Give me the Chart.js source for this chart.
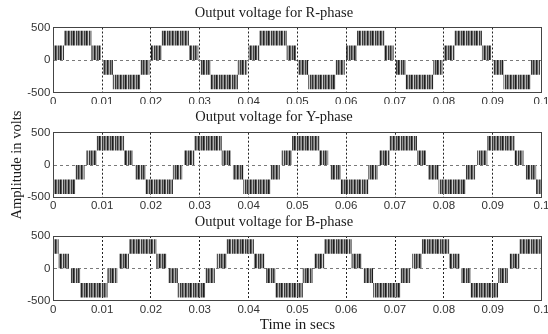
<!DOCTYPE html>
<html>
<head>
<meta charset="utf-8">
<script src="https://cdn.jsdelivr.net/npm/chart.js@4.4.0/dist/chart.umd.min.js"></script>
<style>
  body { margin: 0; background: #fff; width: 548px; height: 334px; overflow: hidden; position: relative; }
  canvas { position: absolute; left: 0; }
</style>
</head>
<body>
<canvas id="grafico-r" width="548" height="104" style="top:0px"></canvas>
<canvas id="grafico-y" width="548" height="135" style="top:90px"></canvas>
<canvas id="grafico-b" width="548" height="126" style="top:208px"></canvas>
<script>
// switching instants (s) and the band the output is chopping in after each one
// band 1 = 0..225 V, 2 = 225..450 V, -1 = -225..0 V, -2 = -450..-225 V, 0 = idle
const rTimes = [
    0, 0.0022, 0.0078, 0.0097, 0.0102, 0.0122, 0.0178, 0.0197,
    0.0200, 0.0222, 0.0278, 0.0297, 0.0302, 0.0322, 0.0378, 0.0397,
    0.0400, 0.0422, 0.0478, 0.0497, 0.0502, 0.0522, 0.0578, 0.0597,
    0.0600, 0.0622, 0.0678, 0.0697, 0.0702, 0.0722, 0.0778, 0.0797,
    0.0800, 0.0822, 0.0878, 0.0897, 0.0902, 0.0922, 0.0978, 0.0997,
    0.1
];
const rLevels = [
    1, 2, 1, 0, -1, -2, -1, 0,
    1, 2, 1, 0, -1, -2, -1, 0,
    1, 2, 1, 0, -1, -2, -1, 0,
    1, 2, 1, 0, -1, -2, -1, 0,
    1, 2, 1, 0, -1, -2, -1, 0,
    0
];

const yTimes = [
    0, 0.0045, 0.0064, 0.0068, 0.0089, 0.0145, 0.0163, 0.0168, 0.0189,
    0.0245, 0.0264, 0.0268, 0.0289, 0.0345, 0.0363, 0.0368, 0.0389,
    0.0445, 0.0464, 0.0468, 0.0489, 0.0545, 0.0563, 0.0568, 0.0589,
    0.0645, 0.0664, 0.0668, 0.0689, 0.0745, 0.0763, 0.0768, 0.0789,
    0.0845, 0.0864, 0.0868, 0.0889, 0.0945, 0.0963, 0.0968, 0.0989,
    0.1
];
const yLevels = [
    -2, -1, 0, 1, 2, 1, 0, -1, -2,
    -1, 0, 1, 2, 1, 0, -1, -2,
    -1, 0, 1, 2, 1, 0, -1, -2,
    -1, 0, 1, 2, 1, 0, -1, -2,
    -1, 0, 1, 2, 1, 0, -1, -2,
    -2
];

const bTimes = [
    0, 0.0011, 0.0032, 0.0036, 0.0055, 0.0111, 0.0131, 0.0135, 0.0155,
    0.0211, 0.0232, 0.0236, 0.0255, 0.0311, 0.0331, 0.0335, 0.0355,
    0.0411, 0.0432, 0.0436, 0.0455, 0.0511, 0.0531, 0.0535, 0.0555,
    0.0611, 0.0632, 0.0636, 0.0655, 0.0711, 0.0731, 0.0735, 0.0755,
    0.0811, 0.0832, 0.0836, 0.0855, 0.0911, 0.0931, 0.0935, 0.0955,
    0.1
];
const bLevels = [
    2, 1, 0, -1, -2, -1, 0, 1, 2,
    1, 0, -1, -2, -1, 0, 1, 2,
    1, 0, -1, -2, -1, 0, 1, 2,
    1, 0, -1, -2, -1, 0, 1, 2,
    1, 0, -1, -2, -1, 0, 1, 2,
    2
];

// volts at the top / bottom of each band
const bandTop = { "-2": -225, "-1": 0, "0": 0, "1": 225, "2": 450 };
const bandBottom = { "-2": -450, "-1": -225, "0": 0, "1": 0, "2": 225 };

const yTicks = [-500, 0, 500];
const xMin = 0, xMax = 0.1, xStep = 0.01;

// vertical stripe fill, looks like the PWM pulses
function criarListras() {
    const c = document.createElement("canvas");
    const tons = ["#333333", "#7a7a7a", "#9c9c9c", "#222222", "#636363", "#b0b0b0",
                  "#404040", "#8a8a8a", "#1c1c1c", "#575757", "#d0d0d0", "#383838", "#929292"];
    c.width = tons.length;
    c.height = 4;
    const g = c.getContext("2d");
    tons.forEach((t, i) => {
        g.fillStyle = t;
        g.fillRect(i, 0, 1, 4);
    });
    return g.createPattern(c, "repeat");
}
const listras = criarListras();

const fonteEixo = { family: "'Liberation Sans', Arial, sans-serif", size: 11.5 };
const fonteTitulo = { family: "'Liberation Serif', 'Times New Roman', serif", size: 14.5, weight: "normal" };
const fonteRotulo = { family: "'Liberation Serif', 'Times New Roman', serif", size: 14.5, weight: "normal" };

function montarGrafico(id, titulo, times, levels, cfg) {
    const topo = times.map((t, i) => ({ x: t, y: bandTop[levels[i]] }));
    const base = times.map((t, i) => ({ x: t, y: bandBottom[levels[i]] }));

    return new Chart(document.getElementById(id), {
        type: "line",
        data: {
            datasets: [
                { data: topo, stepped: true, borderColor: "transparent", borderWidth: 0, pointRadius: 0, fill: false },
                { data: base, stepped: true, borderColor: "transparent", borderWidth: 0, pointRadius: 0, fill: "-1", backgroundColor: listras }
            ]
        },
        options: {
            responsive: false,
            animation: false,
            devicePixelRatio: 1,
            layout: { padding: 0 },
            plugins: {
                legend: { display: false },
                tooltip: { enabled: false },
                title: {
                    display: true,
                    text: titulo,
                    color: "#1a1a1a",
                    font: fonteTitulo,
                    padding: cfg.titlePad
                }
            },
            scales: {
                x: {
                    type: "linear",
                    min: xMin,
                    max: xMax,
                    ticks: {
                        stepSize: xStep,
                        autoSkip: false,
                        maxRotation: 0,
                        padding: 2,
                        color: "#333",
                        font: fonteEixo,
                        callback: v => Number(v.toFixed(2)).toString()
                    },
                    grid: {
                        drawTicks: false,
                        lineWidth: 1,
                        color: ctx => {
                            const v = ctx.tick ? ctx.tick.value : 0;
                            return (v > 0.001 && v < 0.099) ? "#222" : "transparent";
                        }
                    },
                    border: { display: true, color: "#444", dash: [2, 2] },
                    title: {
                        display: !!cfg.xTitle,
                        text: cfg.xTitle || "",
                        color: "#1a1a1a",
                        font: { ...fonteRotulo, size: 15 },
                        padding: { top: 0, bottom: 0 }
                    },
                    afterFit: s => {
                        s.height = cfg.xHeight;
                        s.paddingLeft = 0;
                        s.paddingRight = 0;
                    }
                },
                x2: {
                    type: "linear",
                    position: "top",
                    min: xMin,
                    max: xMax,
                    ticks: { display: false },
                    grid: { display: false, drawTicks: false },
                    border: { display: true, color: "#444" },
                    afterFit: s => { s.height = 0; }
                },
                y: {
                    min: yTicks[0],
                    max: yTicks[yTicks.length - 1],
                    afterBuildTicks: s => { s.ticks = yTicks.map(v => ({ value: v })); },
                    ticks: { padding: 3, color: "#333", font: fonteEixo },
                    grid: {
                        drawTicks: false,
                        color: ctx => (ctx.tick && ctx.tick.value === 0) ? "#7a7a7a" : "transparent"
                    },
                    border: { display: true, color: "#444", dash: [3, 3] },
                    title: {
                        display: !!cfg.yTitle,
                        text: cfg.yTitle || "",
                        color: "#1a1a1a",
                        font: fonteRotulo,
                        padding: { top: 8, bottom: 0 }
                    },
                    afterFit: s => { s.width = 53.3; }
                },
                y2: {
                    type: "linear",
                    position: "right",
                    min: yTicks[0],
                    max: yTicks[yTicks.length - 1],
                    ticks: { display: false },
                    grid: { display: false, drawTicks: false },
                    border: { display: true, color: "#444" },
                    afterFit: s => { s.width = 6.5; }
                }
            }
        }
    });
}

document.addEventListener("DOMContentLoaded", () => {
    montarGrafico("grafico-r", "Output voltage for R-phase", rTimes, rLevels,
        { titlePad: { top: 4.8, bottom: 5.3 }, xHeight: 11.5 });
    montarGrafico("grafico-y", "Output voltage for Y-phase", yTimes, yLevels,
        { titlePad: { top: 18.3, bottom: 7 }, xHeight: 27.7, yTitle: "Amplitude in volts" });
    montarGrafico("grafico-b", "Output voltage for B-phase", bTimes, bLevels,
        { titlePad: { top: 5.8, bottom: 4.8 }, xHeight: 33.3, xTitle: "Time in secs" });
});
</script>
</body>
</html>
